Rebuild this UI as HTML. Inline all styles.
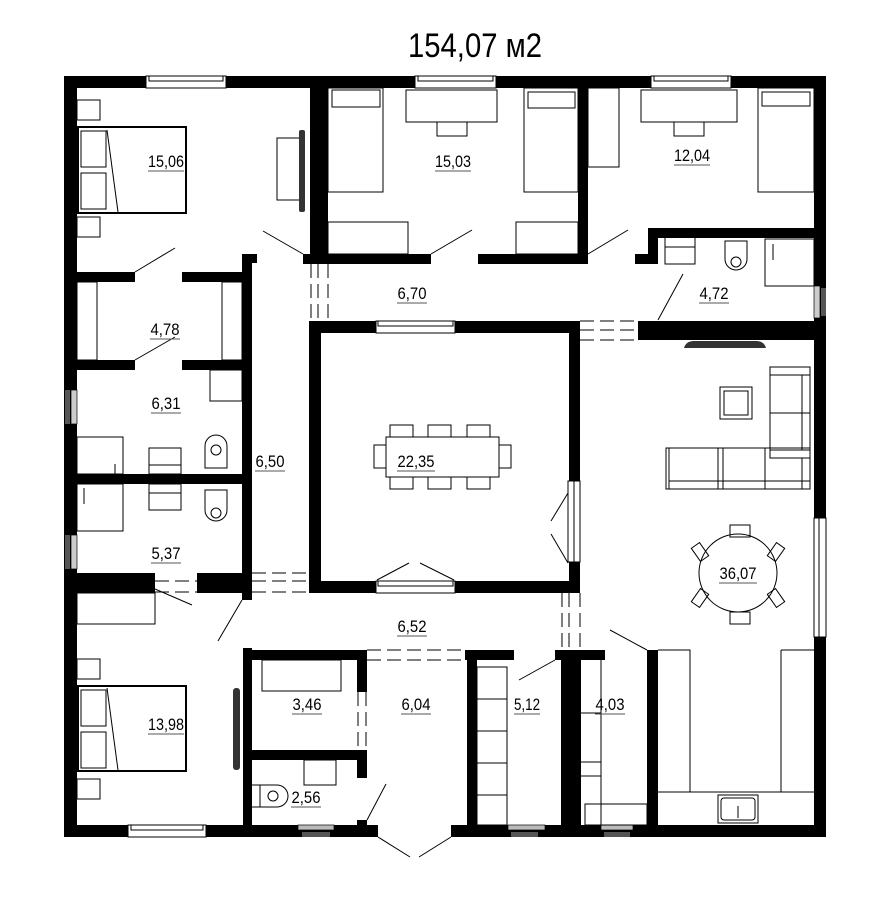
<!DOCTYPE html>
<html><head><meta charset="utf-8"><style>html,body{margin:0;padding:0;background:#fff}svg{display:block}</style></head>
<body>
<svg width="890" height="912" viewBox="0 0 890 912" xmlns="http://www.w3.org/2000/svg" font-family="Liberation Sans, sans-serif">
<rect width="890" height="912" fill="#fff"/>
<text x="475" y="57" font-size="34" text-anchor="middle" textLength="134" lengthAdjust="spacingAndGlyphs">154,07 м2</text>

<g fill="#000">
<!-- outer walls -->
<rect x="64" y="76" width="762" height="12"/>
<rect x="64" y="76" width="13" height="761"/>
<rect x="814" y="76" width="12" height="442"/>
<rect x="814" y="637" width="12" height="200"/>
<rect x="64" y="825" width="314" height="12"/>
<rect x="451" y="825" width="375" height="12"/>
<!-- top interior -->
<rect x="310" y="88" width="18" height="176"/>
<rect x="303" y="254" width="128" height="10"/>
<rect x="578" y="88" width="10" height="176"/>
<rect x="478" y="254" width="110" height="10"/>
<rect x="648" y="228" width="166" height="10"/>
<rect x="648" y="228" width="10" height="36"/>
<rect x="635" y="254" width="23" height="10"/>
<rect x="638" y="321" width="188" height="19"/>
<!-- left rooms -->
<rect x="64" y="272" width="71" height="10"/>
<rect x="182" y="272" width="70" height="10"/>
<rect x="242" y="254" width="10" height="346"/>
<rect x="242" y="254" width="15" height="9"/>
<rect x="64" y="360" width="71" height="10"/>
<rect x="182" y="360" width="70" height="10"/>
<rect x="64" y="474" width="188" height="10"/>
<rect x="64" y="573" width="91" height="20"/>
<rect x="197" y="573" width="55" height="20"/>
<!-- dining room -->
<rect x="309" y="321" width="12" height="272"/>
<rect x="309" y="321" width="271" height="12"/>
<rect x="309" y="581" width="271" height="12"/>
<rect x="569" y="321" width="11" height="160"/>
<rect x="569" y="562" width="11" height="31"/>
<!-- bottom rooms -->
<rect x="243" y="648" width="9" height="180"/>
<rect x="243" y="650" width="124" height="10"/>
<rect x="357" y="650" width="10" height="42"/>
<rect x="357" y="750" width="10" height="28"/>
<rect x="243" y="750" width="124" height="10"/>
<rect x="357" y="820" width="10" height="10"/>
<rect x="467" y="650" width="10" height="180"/>
<rect x="465" y="650" width="49" height="10"/>
<rect x="561" y="650" width="20" height="180"/>
<rect x="555" y="650" width="50" height="10"/>
<rect x="647" y="650" width="11" height="180"/>
</g>

<!-- windows -->
<g fill="#fff" stroke="#000" stroke-width="1">
<rect x="146" y="76" width="80" height="12"/><rect x="149" y="76" width="74" height="5"/>
<rect x="415" y="76" width="81" height="12"/><rect x="418" y="76" width="75" height="5"/>
<rect x="651" y="76" width="80" height="12"/><rect x="654" y="76" width="74" height="5"/>
<rect x="376" y="321" width="79" height="12"/><rect x="378" y="321" width="75" height="5"/>
<rect x="376" y="581" width="79" height="12"/><rect x="378" y="581" width="75" height="5"/>
<rect x="568" y="481" width="12" height="81"/><rect x="574" y="481" width="6" height="81"/>
<rect x="814" y="518" width="12" height="119"/><rect x="819" y="518" width="7" height="119"/>
<rect x="128" y="825" width="78" height="12"/><rect x="131" y="825" width="72" height="5"/>
</g>
<g>
<rect x="65" y="390" width="5" height="34" fill="#555"/><rect x="71" y="390" width="6" height="34" fill="#ccc" stroke="#000" stroke-width="0.7"/>
<rect x="65" y="535" width="5" height="34" fill="#555"/><rect x="71" y="535" width="6" height="34" fill="#ccc" stroke="#000" stroke-width="0.7"/>
<rect x="821" y="288" width="5" height="28" fill="#555"/><rect x="814" y="286" width="6" height="32" fill="#ccc" stroke="#000" stroke-width="0.7"/>
<rect x="298" y="825" width="36" height="5" fill="#bbb" stroke="#000" stroke-width="0.7"/><rect x="302" y="832" width="28" height="5" fill="#555"/>
<rect x="508" y="825" width="37" height="5" fill="#bbb" stroke="#000" stroke-width="0.7"/><rect x="511" y="832" width="27" height="5" fill="#555"/>
<rect x="601" y="825" width="32" height="5" fill="#bbb" stroke="#000" stroke-width="0.7"/><rect x="604" y="832" width="26" height="5" fill="#555"/>
</g>

<!-- dashed openings -->
<g stroke="#000" stroke-width="1" stroke-dasharray="14,6">
<line x1="311" y1="264" x2="311" y2="321"/><line x1="318" y1="264" x2="318" y2="321"/><line x1="328" y1="264" x2="328" y2="321"/>
<line x1="580" y1="321" x2="638" y2="321"/><line x1="580" y1="330" x2="638" y2="330"/><line x1="580" y1="340" x2="638" y2="340"/>
<line x1="252" y1="573" x2="309" y2="573"/><line x1="252" y1="581" x2="309" y2="581"/><line x1="252" y1="592" x2="309" y2="592"/>
<line x1="155" y1="581" x2="197" y2="581"/><line x1="155" y1="592" x2="197" y2="592"/>
<line x1="562" y1="593" x2="562" y2="650"/><line x1="569" y1="593" x2="569" y2="650"/><line x1="580" y1="593" x2="580" y2="650"/>
<line x1="367" y1="650" x2="465" y2="650"/><line x1="367" y1="660" x2="465" y2="660"/>
<line x1="358" y1="692" x2="358" y2="750"/><line x1="366" y1="692" x2="366" y2="750"/>
</g>

<!-- door lines -->
<g stroke="#000" stroke-width="1">
<line x1="263" y1="231" x2="303" y2="254"/><line x1="135" y1="272" x2="175" y2="248"/>
<line x1="431" y1="254" x2="472" y2="230"/><line x1="588" y1="254" x2="628" y2="230"/>
<line x1="658" y1="320" x2="683" y2="274"/><line x1="135" y1="360" x2="175" y2="337"/>
<line x1="155" y1="589" x2="192" y2="605"/><line x1="242" y1="600" x2="218" y2="641"/>
<line x1="367" y1="820" x2="386" y2="784"/><line x1="378" y1="837" x2="410" y2="857"/><line x1="451" y1="837" x2="419" y2="857"/>
<line x1="519" y1="680" x2="555" y2="660"/><line x1="610" y1="630" x2="647" y2="650"/>
<line x1="377" y1="580" x2="409" y2="563"/><line x1="454" y1="580" x2="420" y2="563"/>
<line x1="568" y1="493" x2="551" y2="521"/><line x1="568" y1="563" x2="551" y2="534"/>
</g>

<!-- furniture -->
<g fill="none" stroke="#000" stroke-width="1">
<rect x="78" y="127" width="108" height="86" stroke-width="2"/>
<rect x="81" y="131" width="25" height="36"/><rect x="81" y="173" width="25" height="36"/>
<line x1="107" y1="130" x2="118" y2="212"/>
<rect x="77" y="100" width="23" height="20"/><rect x="77" y="217" width="23" height="20"/>
<rect x="277" y="138" width="25" height="62"/>
<rect x="328" y="88" width="55" height="104"/><rect x="332" y="90" width="48" height="17"/>
<rect x="406" y="90" width="91" height="32"/><rect x="437" y="122" width="30" height="14"/>
<rect x="524" y="88" width="54" height="104"/><rect x="528" y="92" width="47" height="16"/>
<rect x="328" y="222" width="80" height="32"/><rect x="516" y="222" width="62" height="32"/>
<rect x="588" y="88" width="31" height="79"/>
<rect x="641" y="90" width="96" height="32"/><rect x="674" y="122" width="30" height="14"/>
<rect x="758" y="88" width="56" height="104"/><rect x="762" y="92" width="48" height="14"/>
<rect x="665" y="237" width="30" height="27"/><line x1="665" y1="247" x2="695" y2="247"/>
<path d="M725 241 h22 v18 a11 11 0 0 1 -22 0 z"/><circle cx="736" cy="262" r="5"/>
<rect x="765" y="239" width="49" height="47"/><line x1="773" y1="244" x2="773" y2="260"/>
<rect x="77" y="282" width="20" height="78"/><rect x="222" y="282" width="20" height="78"/>
<rect x="210" y="370" width="32" height="31"/>
<rect x="77" y="437" width="46" height="37"/><line x1="115" y1="464" x2="115" y2="474"/>
<rect x="149" y="448" width="32" height="26"/><rect x="149" y="484" width="32" height="26"/><line x1="149" y1="493" x2="181" y2="493"/><line x1="149" y1="465" x2="181" y2="465"/>
<path d="M205 468 v-22 a11 11 0 0 1 22 0 v22 z"/><circle cx="216" cy="450" r="5"/>
<path d="M205 490 h22 v20 a11 11 0 0 1 -22 0 z"/><circle cx="216" cy="513" r="5"/>
<rect x="77" y="484" width="46" height="47"/><line x1="84" y1="488" x2="84" y2="504"/>
<rect x="77" y="593" width="78" height="31"/>
<rect x="78" y="686" width="108" height="85" stroke-width="2"/>
<rect x="81" y="690" width="25" height="36"/><rect x="81" y="732" width="25" height="36"/>
<line x1="107" y1="688" x2="118" y2="770"/>
<rect x="77" y="659" width="23" height="20"/><rect x="77" y="779" width="23" height="20"/>
<rect x="262" y="660" width="79" height="31"/>
<rect x="304" y="760" width="32" height="25"/>
<path d="M252 785 h25 a11 11 0 0 1 0 22 h-25"/><line x1="260" y1="785" x2="260" y2="807"/><circle cx="273" cy="796" r="5"/>
<rect x="477" y="667" width="30" height="158"/>
<line x1="477" y1="699" x2="507" y2="699"/><line x1="477" y1="731" x2="507" y2="731"/><line x1="477" y1="763" x2="507" y2="763"/><line x1="477" y1="795" x2="507" y2="795"/>
<line x1="601" y1="660" x2="601" y2="825"/>
<line x1="581" y1="713" x2="601" y2="713"/><line x1="581" y1="762" x2="601" y2="762"/><line x1="581" y1="776" x2="601" y2="776"/>
<rect x="585" y="804" width="62" height="21"/>
<path d="M658 650 h32 v142 M781 650 h33 M781 650 v142 M658 792 h156"/>
<rect x="718" y="795" width="40" height="28"/><rect x="721" y="798" width="34" height="22" rx="3"/>
<line x1="738" y1="806" x2="738" y2="818"/>
<rect x="720" y="387" width="32" height="32"/><rect x="724" y="391" width="24" height="24"/>
<rect x="770" y="367" width="40" height="91"/><rect x="770" y="367" width="40" height="8"/><rect x="770" y="450" width="40" height="8"/>
<line x1="802" y1="375" x2="802" y2="450"/><line x1="770" y1="413" x2="810" y2="413"/>
<rect x="666" y="448" width="144" height="41"/>
<line x1="669" y1="481" x2="810" y2="481"/><line x1="718" y1="448" x2="718" y2="489"/><line x1="723" y1="448" x2="723" y2="489"/><line x1="765" y1="448" x2="765" y2="489"/><line x1="669" y1="448" x2="669" y2="489"/><line x1="802" y1="458" x2="802" y2="489"/>
<circle cx="738" cy="573" r="39"/>
<rect x="730" y="525" width="20" height="12"/><rect x="730" y="612" width="20" height="12"/>
<rect x="695" y="544" width="10" height="16" transform="rotate(-35 700 552)"/><rect x="771" y="544" width="10" height="16" transform="rotate(35 776 552)"/>
<rect x="695" y="590" width="10" height="16" transform="rotate(35 700 598)"/><rect x="771" y="590" width="10" height="16" transform="rotate(-35 776 598)"/>
<rect x="386" y="437" width="113" height="40"/>
<rect x="390" y="425" width="23" height="12"/><rect x="428" y="425" width="23" height="12"/><rect x="467" y="425" width="23" height="12"/>
<rect x="390" y="477" width="23" height="12"/><rect x="428" y="477" width="23" height="12"/><rect x="467" y="477" width="23" height="12"/>
<rect x="374" y="445" width="12" height="23"/><rect x="499" y="445" width="12" height="23"/>
</g>
<g fill="#333">
<rect x="299" y="130" width="6" height="82" rx="2"/>
<rect x="233" y="688" width="7" height="82" rx="3"/>
<path d="M684 348 q2 -7 10 -7 h62 q8 0 10 7 z"/>
</g>

<!-- labels -->
<g font-size="17" text-anchor="middle">
<text x="166" y="167" textLength="36" lengthAdjust="spacingAndGlyphs">15,06</text>
<text x="453" y="167" textLength="36" lengthAdjust="spacingAndGlyphs">15,03</text>
<text x="692" y="161" textLength="36" lengthAdjust="spacingAndGlyphs">12,04</text>
<text x="412" y="299" textLength="29" lengthAdjust="spacingAndGlyphs">6,70</text>
<text x="714" y="299" textLength="29" lengthAdjust="spacingAndGlyphs">4,72</text>
<text x="165" y="335" textLength="29" lengthAdjust="spacingAndGlyphs">4,78</text>
<text x="166" y="409" textLength="29" lengthAdjust="spacingAndGlyphs">6,31</text>
<text x="270" y="467" textLength="29" lengthAdjust="spacingAndGlyphs">6,50</text>
<text x="416" y="467" textLength="37" lengthAdjust="spacingAndGlyphs">22,35</text>
<text x="166" y="559" textLength="29" lengthAdjust="spacingAndGlyphs">5,37</text>
<text x="738" y="579" textLength="37" lengthAdjust="spacingAndGlyphs">36,07</text>
<text x="412" y="632" textLength="29" lengthAdjust="spacingAndGlyphs">6,52</text>
<text x="307" y="710" textLength="29" lengthAdjust="spacingAndGlyphs">3,46</text>
<text x="416" y="710" textLength="29" lengthAdjust="spacingAndGlyphs">6,04</text>
<text x="527" y="710" textLength="26" lengthAdjust="spacingAndGlyphs">5,12</text>
<text x="610" y="710" textLength="29" lengthAdjust="spacingAndGlyphs">4,03</text>
<text x="166" y="730" textLength="36" lengthAdjust="spacingAndGlyphs">13,98</text>
<text x="306" y="803" textLength="29" lengthAdjust="spacingAndGlyphs">2,56</text>
</g>
<g stroke="#555" stroke-width="1">
<line x1="148" y1="171" x2="184" y2="171"/><line x1="435" y1="171" x2="471" y2="171"/><line x1="674" y1="165" x2="710" y2="165"/>
<line x1="397" y1="303" x2="427" y2="303"/><line x1="699" y1="303" x2="729" y2="303"/><line x1="150" y1="339" x2="180" y2="339"/>
<line x1="151" y1="413" x2="181" y2="413"/><line x1="255" y1="471" x2="285" y2="471"/><line x1="397" y1="471" x2="435" y2="471"/>
<line x1="151" y1="563" x2="181" y2="563"/><line x1="719" y1="583" x2="757" y2="583"/><line x1="397" y1="636" x2="427" y2="636"/>
<line x1="292" y1="714" x2="322" y2="714"/><line x1="401" y1="714" x2="431" y2="714"/><line x1="514" y1="714" x2="540" y2="714"/>
<line x1="595" y1="714" x2="625" y2="714"/><line x1="148" y1="734" x2="184" y2="734"/><line x1="291" y1="807" x2="321" y2="807"/>
</g>
</svg>
</body></html>
